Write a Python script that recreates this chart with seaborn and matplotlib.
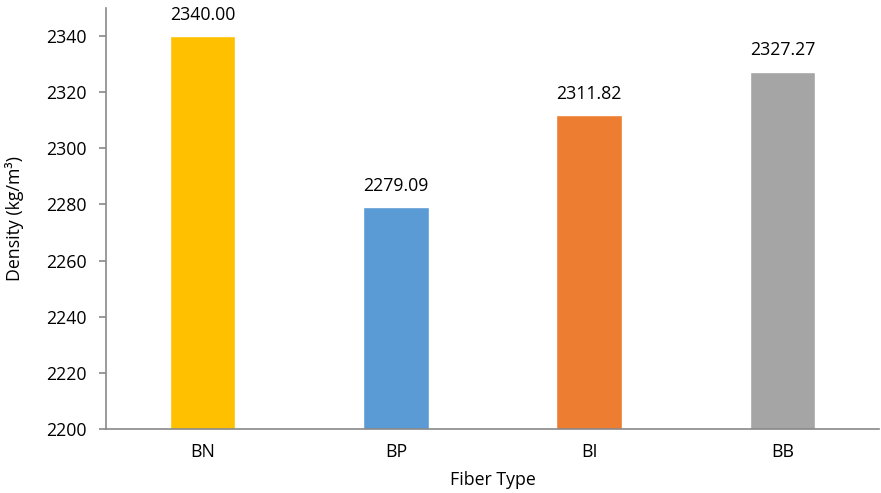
import matplotlib
matplotlib.use("Agg")
import matplotlib.pyplot as plt
import seaborn as sns
import pandas as pd
import numpy as np

fiber_types = ["BN", "BP", "BI", "BB"]
density = [2340.00, 2279.09, 2311.82, 2327.27]
bar_colors = ["#FFC000", "#5B9BD5", "#ED7D31", "#A5A5A5"]
y_ticks = [2200, 2220, 2240, 2260, 2280, 2300, 2320, 2340]

sns.set_theme(style="white")
plt.rcParams["font.family"] = ["Open Sans", "DejaVu Sans"]

df = pd.DataFrame({"Fiber Type": fiber_types, "Density": density})

fig = plt.figure(figsize=(8.81, 4.93), dpi=100)
ax = fig.add_axes([106 / 881, 1 - 429 / 493, 773 / 881, 421 / 493])

sns.barplot(data=df, x="Fiber Type", y="Density", hue="Fiber Type",
            palette=bar_colors, width=0.34, legend=False, ax=ax,
            saturation=1)

ax.set_ylim(2200, 2350)
ax.set_yticks(y_ticks)
ax.set_yticklabels([str(v) for v in y_ticks])

spine_color = "#898989"
for side in ["top", "right"]:
    ax.spines[side].set_visible(False)
for side in ["left", "bottom"]:
    ax.spines[side].set_color(spine_color)
    ax.spines[side].set_linewidth(1.2)

ax.tick_params(axis="y", which="major", direction="out", length=5,
               width=1.2, color=spine_color, pad=9, labelsize=12.8,
               labelcolor="#000000", left=True)
ax.tick_params(axis="x", length=0, pad=10, labelsize=12.8, labelcolor="#000000")

ax.set_xlabel("Fiber Type", fontsize=12.8, color="#000000", labelpad=7)
ax.set_ylabel("Density (kg/m³)", fontsize=12.8, color="#000000", labelpad=16)

for container in ax.containers:
    ax.bar_label(container, fmt="%.2f", padding=9, fontsize=12.8,
                 color="#000000")

fig.savefig("out.png", dpi=100, facecolor="white")
